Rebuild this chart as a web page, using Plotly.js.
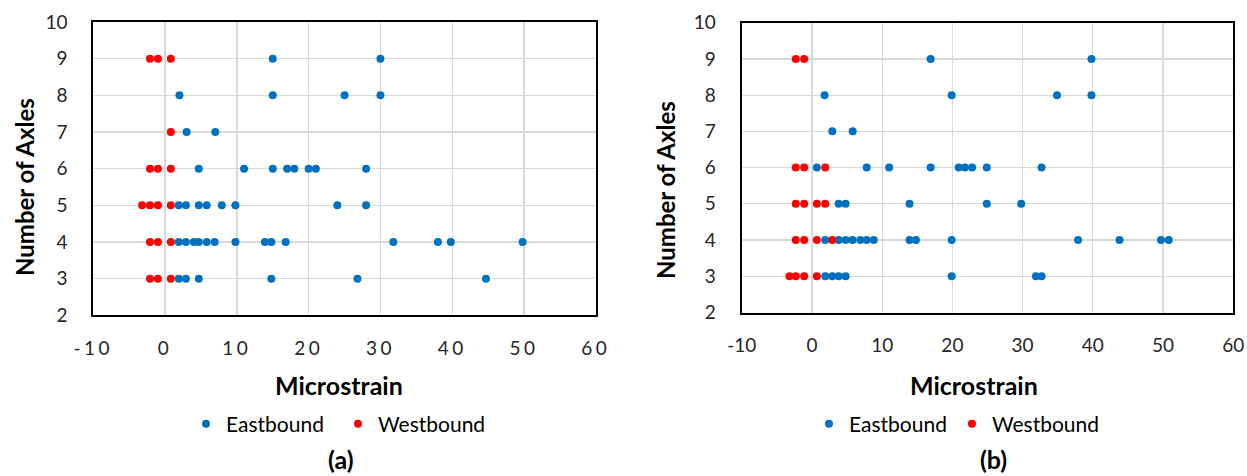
<!DOCTYPE html>
<html>
<head>
<meta charset="utf-8">
<script src="https://cdn.plot.ly/plotly-3.0.1.min.js"></script>
<style>
  html, body { margin: 0; padding: 0; background: #fff; }
  #chart { width: 1247px; height: 476px; }
  .subplot.xy .xaxislayer-above .xtick text { letter-spacing: 3.5px; }
</style>
</head>
<body>
<div id="chart"></div>
<script>
// ---- Panel (a) data ----
const eastA_x = [15, 30,
  2, 15, 25, 30,
  3, 7,
  4.7, 11, 15, 17, 18, 20, 21, 28,
  1.9, 2.9, 4.7, 5.8, 7.9, 9.8, 24, 28,
  1.9, 2.9, 4, 4.7, 5.8, 6.9, 9.8, 13.9, 14.8, 16.8, 31.8, 38, 39.8, 49.8,
  1.9, 2.9, 4.7, 14.8, 26.8, 44.7];
const eastA_y = [9, 9,
  8, 8, 8, 8,
  7, 7,
  6, 6, 6, 6, 6, 6, 6, 6,
  5, 5, 5, 5, 5, 5, 5, 5,
  4, 4, 4, 4, 4, 4, 4, 4, 4, 4, 4, 4, 4, 4,
  3, 3, 3, 3, 3, 3];
const westA_x = [-2.1, -1, 0.8,
  0.8,
  -2.1, -1, 0.8,
  -3.2, -2.1, -1, 0.8,
  -2.1, -1, 0.8,
  -2.1, -1, 0.8];
const westA_y = [9, 9, 9,
  7,
  6, 6, 6,
  5, 5, 5, 5,
  4, 4, 4,
  3, 3, 3];

// ---- Panel (b) data ----
const eastB_x = [16.9, 39.8,
  1.8, 19.9, 34.9, 39.8,
  2.9, 5.8,
  0.7, 7.8, 11, 16.9, 20.9, 21.8, 22.8, 24.9, 32.7,
  3.8, 4.8, 13.9, 24.9, 29.8,
  1.9, 3.8, 4.8, 5.8, 6.9, 7.8, 8.8, 13.9, 14.8, 19.9, 37.9, 43.8, 49.7, 50.8,
  1.9, 2.9, 3.8, 4.8, 19.9, 31.9, 32.7];
const eastB_y = [9, 9,
  8, 8, 8, 8,
  7, 7,
  6, 6, 6, 6, 6, 6, 6, 6, 6,
  5, 5, 5, 5, 5,
  4, 4, 4, 4, 4, 4, 4, 4, 4, 4, 4, 4, 4, 4,
  3, 3, 3, 3, 3, 3, 3];
const westB_x = [-2.3, -1.1,
  -2.3, -1.1, 1.9,
  -2.3, -1.1, 0.7, 1.9,
  -2.3, -1.1, 0.7, 2.9,
  -3.2, -2.3, -1.1, 0.7];
const westB_y = [9, 9,
  6, 6, 6,
  5, 5, 5, 5,
  4, 4, 4, 4,
  3, 3, 3, 3];

const seriesNames = ["Eastbound", "Westbound"];
const xTicks = [-10, 0, 10, 20, 30, 40, 50, 60];
const yTicks = [2, 3, 4, 5, 6, 7, 8, 9, 10];
const xTitle = "Microstrain";
const yTitle = "Number of Axles";
const panelLabels = ["(a)", "(b)"];

const BLUE = "#0070C0";
const RED = "#FF0000";
const FONT = "Lato, 'Open Sans', sans-serif";
const W = 1247, H = 476;
const px = v => v / W;
const py = v => 1 - v / H;

const mk = (x, y, name, color, xa, ya, leg) => ({
  type: "scatter", mode: "markers", x, y, name,
  xaxis: xa, yaxis: ya, legend: leg,
  marker: { color, size: 8 },
  hoverinfo: "x+y"
});

const data = [
  mk(eastA_x, eastA_y, seriesNames[0], BLUE, "x", "y", "legend"),
  mk(westA_x, westA_y, seriesNames[1], RED, "x", "y", "legend"),
  mk(eastB_x, eastB_y, seriesNames[0], BLUE, "x2", "y2", "legend2"),
  mk(westB_x, westB_y, seriesNames[1], RED, "x2", "y2", "legend2")
];

const tickFont = { family: FONT, size: 19, color: "#262626" };
const xBase = {
  range: [-10, 60], tickvals: xTicks, ticktext: xTicks.map(String),
  showgrid: true, gridcolor: "#d9d9d9", gridwidth: 1.3,
  zeroline: false, showline: true, linecolor: "#000", linewidth: 2, mirror: true,
  ticks: "", tickfont: tickFont, ticklabelstandoff: 15, fixedrange: true
};
const yBase = {
  range: [2, 10], tickvals: yTicks, ticktext: yTicks.map(String),
  showgrid: true, gridcolor: "#d9d9d9", gridwidth: 1.3,
  zeroline: false, showline: true, linecolor: "#000", linewidth: 2, mirror: true,
  ticks: "", tickfont: tickFont, ticklabelstandoff: 20, fixedrange: true
};

const ann = (text, x, y, size, angle) => ({
  text: "<b>" + text + "</b>", xref: "paper", yref: "paper",
  x: px(x), y: py(y), xanchor: "center", yanchor: "middle",
  showarrow: false, textangle: angle || 0, borderpad: 0,
  font: { family: FONT, size: size, color: "#000" }
});

const legFont = { family: FONT, size: 21, color: "#000" };
const layout = {
  width: W, height: H,
  margin: { l: 0, r: 0, t: 0, b: 0, pad: 0 },
  paper_bgcolor: "#fff", plot_bgcolor: "#fff",
  showlegend: true,
  xaxis: Object.assign({}, xBase, { domain: [px(93.3), px(595.8)], anchor: "y" }),
  yaxis: Object.assign({}, yBase, { domain: [py(315.3), py(22)], anchor: "x" }),
  xaxis2: Object.assign({}, xBase, { domain: [px(741.7), px(1233.3)], anchor: "y2" }),
  yaxis2: Object.assign({}, yBase, { domain: [py(312.5), py(22.7)], anchor: "x2" }),
  legend: { orientation: "h", x: px(186), xanchor: "left", y: py(424), yanchor: "middle",
            font: legFont, bgcolor: "rgba(0,0,0,0)", borderwidth: 0,
            entrywidth: 107, entrywidthmode: "pixels" },
  legend2: { orientation: "h", x: px(809), xanchor: "left", y: py(424), yanchor: "middle",
             font: legFont, bgcolor: "rgba(0,0,0,0)", borderwidth: 0 },
  annotations: [
    ann(xTitle, 339, 385, 25),
    ann(xTitle, 974, 385, 25),
    ann(yTitle, 25, 187, 24, -90),
    ann(yTitle, 665, 190, 24, -90),
    ann(panelLabels[0], 341, 459, 25),
    ann(panelLabels[1], 993, 459, 25)
  ]
};

Plotly.newPlot("chart", data, layout, { staticPlot: true, displayModeBar: false });
</script>
</body>
</html>
